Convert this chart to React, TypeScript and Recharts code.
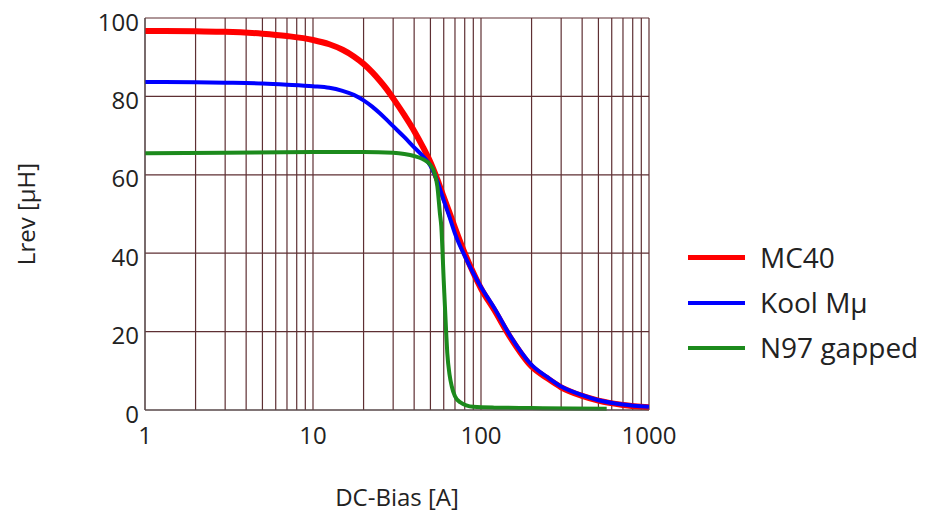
import { LineChart, Line, XAxis, YAxis, CartesianGrid } from "recharts";

// DC bias sample points (A) shared by MC40 and Kool Mu curves
const bias = [1, 2, 3, 5, 7, 10, 12.5, 15, 17.5, 20, 22.5, 25, 27.5, 30, 35, 40, 45, 50, 55, 60, 65, 70, 80, 90, 100, 120, 150, 200, 250, 300, 400, 500, 700, 1000];
const mc40 = [96.7, 96.6, 96.5, 96.0, 95.4, 94.4, 93.3, 91.9, 90.2, 88.3, 86.2, 84, 81.8, 79.5, 75.2, 71.2, 67.2, 63.2, 58.8, 54.3, 50.3, 46.5, 40, 35, 31, 25.5, 18.4, 11.1, 8, 5.8, 3.6, 2.4, 1.3, 0.7];
const koolMu = [83.7, 83.6, 83.5, 83.3, 83.0, 82.6, 82.2, 81.4, 80.4, 79, 77.4, 75.7, 74, 72.4, 69.6, 67, 64.8, 62.3, 58.3, 53.5, 49.2, 45, 39.3, 34.9, 31.4, 26, 18.8, 11.5, 8.3, 6.0, 3.8, 2.5, 1.4, 0.8];

// N97 gapped has its own sample points
const n97Bias = [1, 3, 10, 20, 30, 35, 40, 45, 50, 53, 55, 57, 58, 60, 62, 63, 65, 67, 70, 75, 90, 120, 200, 350, 560];
const n97 = [65.5, 65.6, 65.8, 65.8, 65.6, 65.3, 64.8, 64, 62.5, 60.3, 57, 50, 47, 33, 20, 14.5, 9, 6, 3.5, 2, 0.8, 0.6, 0.5, 0.4, 0.35];

const xTicks = [1, 2, 3, 4, 5, 6, 7, 8, 9, 10, 20, 30, 40, 50, 60, 70, 80, 90, 100, 200, 300, 400, 500, 600, 700, 800, 900, 1000];
const yTicks = [0, 20, 40, 60, 80, 100];

const seriesNames = ["MC40", "Kool Mμ", "N97 gapped"];
const seriesColors = ["#ff0000", "#0000ff", "#1c8a1c"];
const seriesWidths = [6, 4, 4];

const toPoints = (xs: number[], ys: number[]) => xs.map((x, i) => ({ x, y: ys[i] }));
const seriesData = [toPoints(bias, mc40), toPoints(bias, koolMu), toPoints(n97Bias, n97)];

const font = "'Open Sans', sans-serif";
const gridColor = "#5e2f33";

const decadeLabel = (v: number) => (Number.isInteger(Math.log10(v)) ? String(v) : "");

export default function App() {
  return (
    <div style={{ position: "absolute", left: 0, top: 0, width: 929, height: 512, background: "#fff", fontFamily: font }}>
      <LineChart width={929} height={512} margin={{ top: 18, right: 280, bottom: 0, left: 0 }}>
        <CartesianGrid stroke={gridColor} strokeWidth={1.2} />
        <XAxis
          dataKey="x"
          type="number"
          scale="log"
          domain={[1, 1000]}
          ticks={xTicks}
          interval={0}
          allowDataOverflow
          tickFormatter={decadeLabel}
          tickLine={false}
          tickSize={0}
          tickMargin={17}
          height={102}
          stroke="#555"
          tick={{ fill: "#222", fontSize: 24, fontFamily: font }}
          label={{
            content: ({ viewBox }: any) => (
              <text x={viewBox.x + viewBox.width / 2} y={viewBox.y + 86} textAnchor="middle" dominantBaseline="central" fontSize={24} fill="#222" fontFamily={font}>
                DC-Bias [A]
              </text>
            ),
          }}
        />
        <YAxis
          type="number"
          domain={[0, 100]}
          ticks={yTicks}
          interval={0}
          width={145}
          tickLine={false}
          tickSize={0}
          tickMargin={6}
          stroke="#555"
          tick={{ fill: "#222", fontSize: 24, fontFamily: font, dy: 4 }}
          label={{
            content: ({ viewBox }: any) => {
              const cx = viewBox.x + 25;
              const cy = viewBox.y + viewBox.height / 2;
              return (
                <text x={cx} y={cy} transform={`rotate(-90 ${cx} ${cy})`} textAnchor="middle" dominantBaseline="central" fontSize={24} fill="#222" fontFamily={font}>
                  Lrev [µH]
                </text>
              );
            },
          }}
        />
        {seriesData.map((d, i) => (
          <Line
            key={seriesNames[i]}
            data={d}
            dataKey="y"
            name={seriesNames[i]}
            type="monotone"
            stroke={seriesColors[i]}
            strokeWidth={seriesWidths[i]}
            dot={false}
            isAnimationActive={false}
          />
        ))}
      </LineChart>
      <div style={{ position: "absolute", left: 688, top: 235 }}>
        {seriesNames.map((name, i) => (
          <div key={name} style={{ display: "flex", alignItems: "center", height: 45 }}>
            <div style={{ width: 57, height: seriesWidths[i] === 6 ? 5 : 4, background: seriesColors[i], marginRight: 15 }} />
            <span style={{ fontSize: 28, color: "#222", lineHeight: "45px" }}>{name}</span>
          </div>
        ))}
      </div>
    </div>
  );
}
